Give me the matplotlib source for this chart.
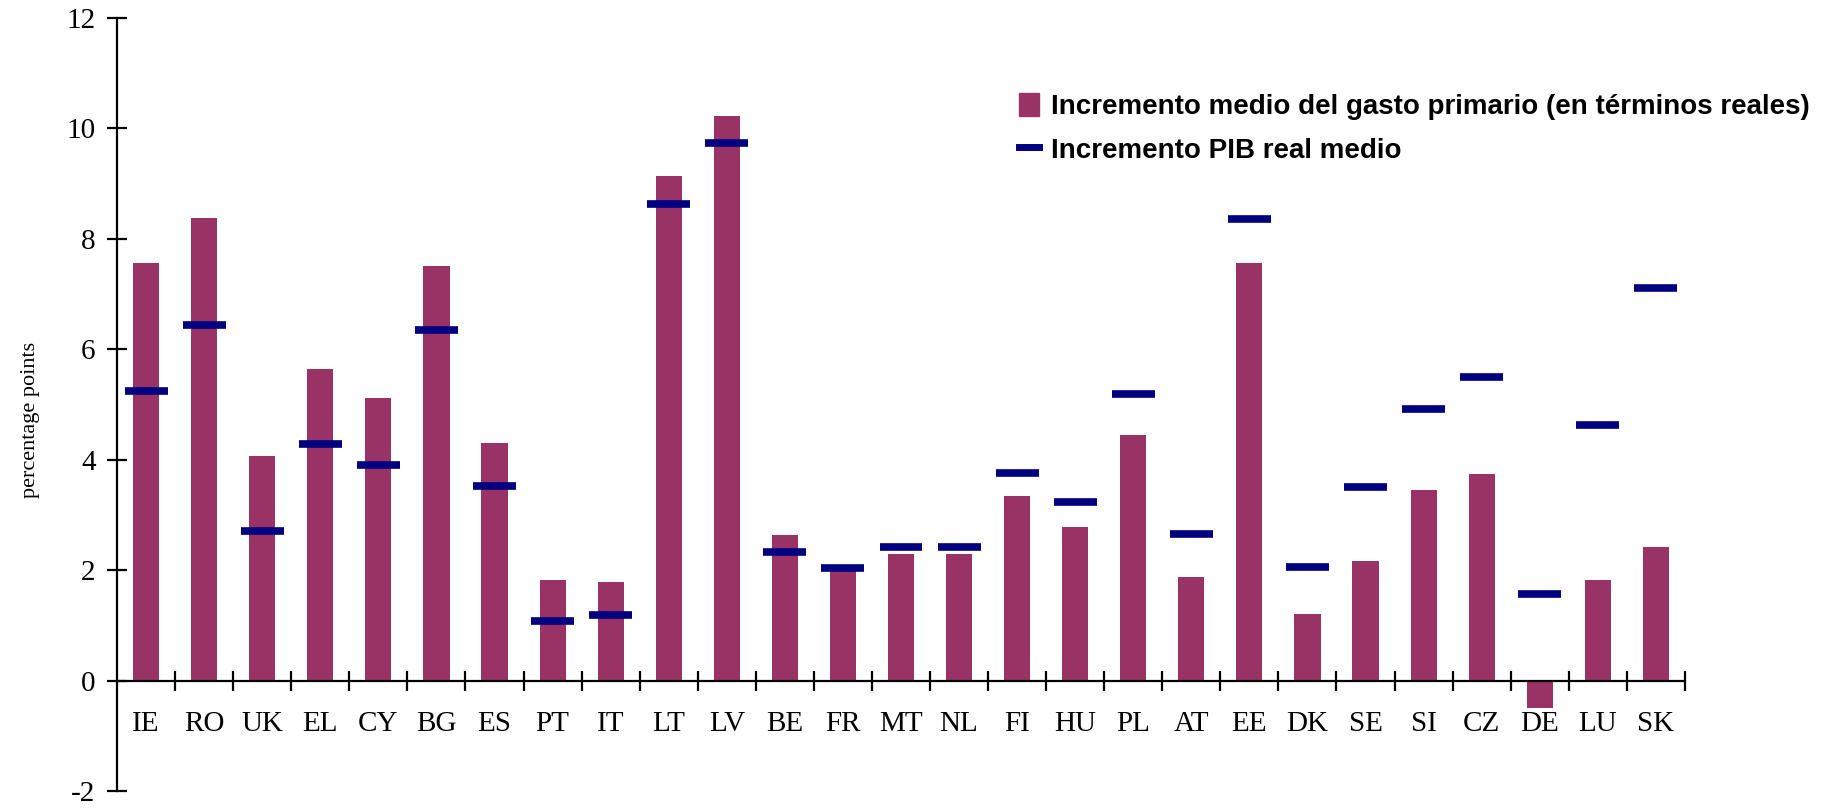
from matplotlib import pyplot as plt
from matplotlib.patches import Patch
from matplotlib.lines import Line2D
import numpy as np

countries = ["IE", "RO", "UK", "EL", "CY", "BG", "ES", "PT", "IT", "LT", "LV",
             "BE", "FR", "MT", "NL", "FI", "HU", "PL", "AT", "EE", "DK", "SE",
             "SI", "CZ", "DE", "LU", "SK"]
gasto_primario = [7.56, 8.37, 4.07, 5.65, 5.12, 7.50, 4.31, 1.82, 1.78, 9.13, 10.23,
                  2.63, 2.02, 2.30, 2.30, 3.35, 2.78, 4.45, 1.87, 7.56, 1.20, 2.16,
                  3.45, 3.74, -0.50, 1.83, 2.41]
pib_real = [5.24, 6.44, 2.71, 4.29, 3.91, 6.34, 3.52, 1.08, 1.18, 8.63, 9.73,
            2.33, 2.04, 2.42, 2.42, 3.76, 3.24, 5.19, 2.66, 8.35, 2.05, 3.51,
            4.92, 5.49, 1.57, 4.63, 7.11]

bar_color = "#993366"
line_color = "#000080"

def main():
    fig = plt.figure(figsize=(18.35, 8.09), dpi=100)
    ax = fig.add_axes([0.0638, 0.0222, 0.9182 - 0.0638, 0.978 - 0.0222])

    x = np.arange(len(countries))
    ax.bar(x, gasto_primario, width=0.45, color=bar_color, zorder=2)
    ax.hlines(pib_real, x - 0.37, x + 0.37, color=line_color, linewidth=5.5, zorder=3)

    ax.set_xlim(-0.5, len(countries) - 0.5)
    ax.set_ylim(-2, 12)

    for side in ("top", "right"):
        ax.spines[side].set_visible(False)
    ax.spines["bottom"].set_position(("data", 0))
    ax.spines["bottom"].set_linewidth(1.6)
    ax.spines["left"].set_linewidth(1.6)
    ax.spines["bottom"].set_zorder(4)

    # ticks between categories, labels at the centres
    ax.set_xticks(list(x[1:] - 0.5) + [len(countries) - 0.5])
    ax.set_xticklabels([])
    ax.set_xticks(x, minor=True)
    ax.set_xticklabels(countries, minor=True, family="Liberation Serif", fontsize=21)
    ax.tick_params(axis="x", which="major", direction="inout", length=15, width=1.6)
    ax.tick_params(axis="x", which="minor", length=0, pad=22)

    ax.set_yticks(np.arange(-2, 13, 2))
    ax.set_yticklabels([str(v) for v in range(-2, 13, 2)], family="Liberation Serif",
                       fontsize=21)
    ax.tick_params(axis="y", direction="inout", length=15, width=1.6, pad=8)

    ax.set_ylabel("percentage points", family="Liberation Serif", fontsize=16)
    ax.yaxis.set_label_coords(-0.049, 0.48)

    handles = [
        Patch(facecolor=bar_color, edgecolor=bar_color),
        Line2D([0], [0], color=line_color, linewidth=5),
    ]
    labels = ["Incremento medio del gasto primario (en términos reales)",
              "Incremento PIB real medio"]
    fig.legend(handles, labels, loc="upper left", bbox_to_anchor=(0.5415, 0.916),
               frameon=False, handlelength=0.75, handleheight=0.9, handletextpad=0.4,
               labelspacing=0.6,
               prop={"family": "Liberation Sans", "weight": "bold", "size": 20})

    fig.savefig("out.png", dpi=100)

if __name__ == "__main__":
    main()
